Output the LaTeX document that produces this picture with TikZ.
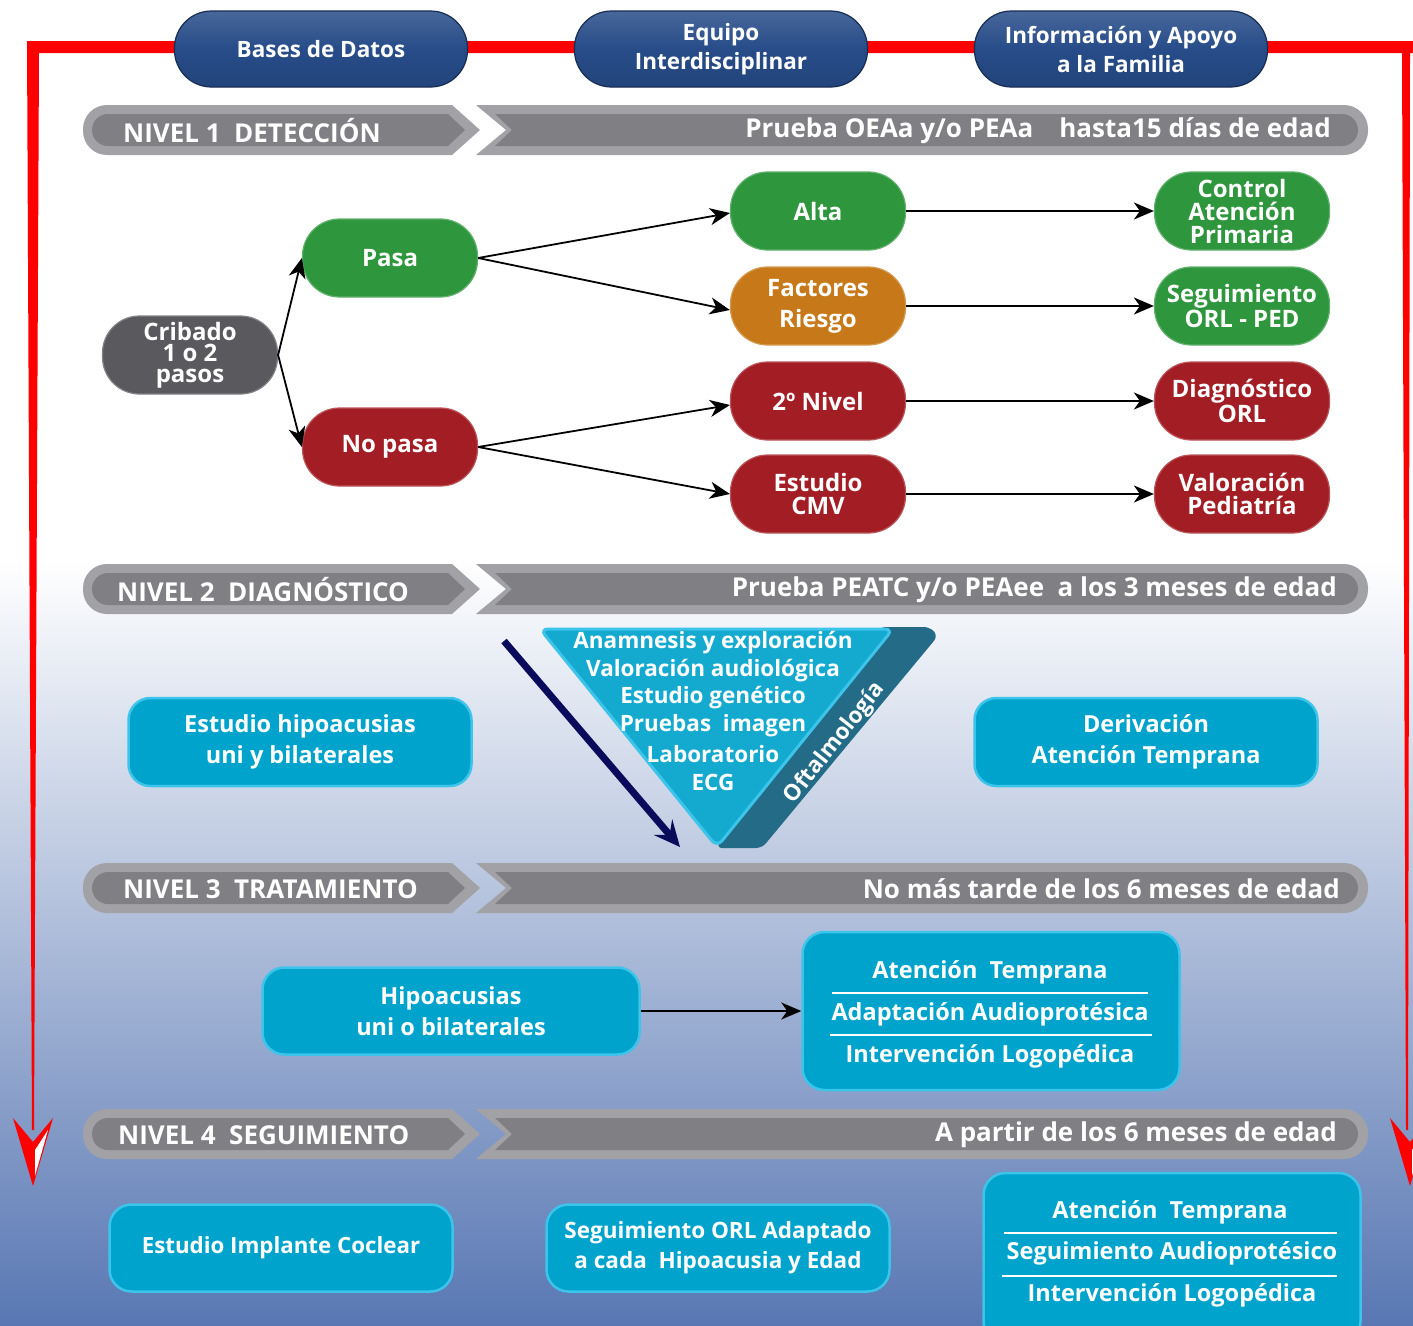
\documentclass[tikz,border=0pt]{standalone}
\usepackage{fontspec}
\setmainfont{Open Sans}
\usetikzlibrary{arrows.meta,calc}
\definecolor{dblue}{HTML}{274C89}
\definecolor{gbar}{HTML}{7F7F84}
\definecolor{gbarl}{HTML}{A2A2A6}
\definecolor{ngreen}{HTML}{2E963C}
\definecolor{nred}{HTML}{A31D24}
\definecolor{norange}{HTML}{C77818}
\definecolor{ngray}{HTML}{5A5A5E}
\definecolor{ncyan}{HTML}{00A3CC}
\definecolor{ncyanl}{HTML}{3CC4EA}
\definecolor{tridark}{HTML}{236B86}
\definecolor{navyc}{HTML}{0B0B5C}
\definecolor{bgblue}{HTML}{5877B3}
\definecolor{redline}{HTML}{FF0000}
\newcommand\myfs[2]{\fontsize{#1}{#2}\selectfont\bfseries}
\newcommand\mybanner[6]{%
  \fill[gbarl] (300,#1-25) -- (452,#1-25) -- (480,#1) -- (452,#1+25) [rounded corners=24pt]-- (83,#1+25) -- (83,#1-25) [sharp corners]-- cycle;
  \fill[gbar] (300,#1-16) -- (448,#1-16) -- (465,#1) -- (448,#1+16) [rounded corners=16pt]-- (92,#1+16) -- (92,#1-16) [sharp corners]-- cycle;
  \fill[gbarl] (476,#1-25) [rounded corners=24pt]-- (1368,#1-25) -- (1368,#1+25) [sharp corners]-- (476,#1+25) -- (506,#1) -- cycle;
  \fill[gbar] (495,#1-16) [rounded corners=16pt]-- (1358,#1-16) -- (1358,#1+16) [sharp corners]-- (495,#1+16) -- (512,#1) -- cycle;
  \node[bantext, anchor=west] (#2) at (#3,#1+1) {#4};
  \node[bantext, anchor=east] (#2r) at (#5,#1+1) {#6};
}
\begin{document}
\begin{tikzpicture}[x=1pt,y=-1pt,
  pill/.style={rounded corners=37pt, minimum width=175pt, minimum height=78pt, inner sep=0pt,
    fill=#1, draw=#1!75!white, line width=1.2pt, text=white, align=center},
  toppill/.style={rounded corners=37pt, minimum width=293pt, minimum height=76pt, inner sep=0pt,
    top color=dblue!85!white, bottom color=dblue!90!black, middle color=dblue, draw=dblue!60!black, line width=1.2pt, text=white, align=center,
    font=\myfs{22.5}{29}},
  cbox/.style={rounded corners=22pt, fill=ncyan, draw=ncyanl, line width=2.5pt, inner sep=0pt,
    text=white, align=center, font=\myfs{23.5}{31}},
  ctext/.style={text=white, font=\myfs{23.5}{22}, inner sep=0pt},
  bantext/.style={text=white, font=\myfs{26}{26}, inner sep=0pt},
  blk/.style={black, line width=1.8pt, -{Stealth[length=20pt,width=17pt,inset=6pt]}},
]
\useasboundingbox (0,0) rectangle (1413,1325);
% background
\fill[white] (0,0) rectangle (1413,560);
\shade[top color=white, bottom color=bgblue] (0,560) rectangle (1413,1325);

% red frame line
\fill[redline] (27,41) -- (1413,41) -- (1413,53) -- (1410,53) -- (1408,1130) -- (1406,1130) -- (1402,53) -- (39,53) -- (34,1130) -- (32,1130) -- cycle;
\fill[redline] (13,1118) -- (33,1142) -- (53,1118) -- (33,1186) -- cycle;
\fill[white] (35,1150) -- (48,1130) -- (35,1176) -- cycle;
\fill[redline] (1390,1118) -- (1410,1142) -- (1430,1118) -- (1410,1186) -- cycle;
\fill[white] (1412,1150) -- (1425,1130) -- (1412,1176) -- cycle;

% top pills
\node[toppill] (bd) at (321,49) {Bases de Datos};
\node[toppill] (eq) at (721,49) {Equipo\\Interdisciplinar};
\node[toppill] (inf) at (1121,49) {Información y Apoyo\\a la Familia};

% banners
\mybanner{130}{n1}{123}{NIVEL 1\ \ DETECCIÓN}{1331}{Prueba OEAa y/o PEAa\quad hasta15 días de edad}
\mybanner{589}{n2}{117}{NIVEL 2\ \ DIAGNÓSTICO}{1337}{Prueba PEATC y/o PEAee\ \ a los 3 meses de edad}
\mybanner{888}{n3}{123}{NIVEL 3\ \ TRATAMIENTO}{1340}{No más tarde de los 6 meses de edad}
\mybanner{1134}{n4}{118}{NIVEL 4\ \ SEGUIMIENTO}{1337}{A partir de los 6 meses de edad}

% level 1
\node[pill=ngray, font=\myfs{24}{21}] (crib) at (190,355) {Cribado\\1 o 2\\pasos};
\node[pill=ngreen, font=\myfs{24}{22}] (pasa) at (390,258) {Pasa};
\node[pill=nred, font=\myfs{24}{22}] (nopasa) at (390,447) {No pasa};
\node[pill=ngreen, font=\myfs{24}{22}] (alta) at (818,211) {Alta};
\node[pill=norange, font=\myfs{24}{31}] (fact) at (818,306) {Factores\\Riesgo};
\node[pill=nred, font=\myfs{24}{22}] (niv2) at (818,401) {2º Nivel};
\node[pill=nred, font=\myfs{24}{23}] (cmv) at (818,494) {Estudio\\CMV};
\node[pill=ngreen, font=\myfs{24}{23}] (ctrl) at (1242,211) {Control\\Atención\\Primaria};
\node[pill=ngreen, font=\myfs{24}{23}] (seg) at (1242,306) {Seguimiento\\ORL - PED};
\node[pill=nred, font=\myfs{24}{23}] (diag) at (1242,401) {Diagnóstico\\ORL};
\node[pill=nred, font=\myfs{24}{23}] (val) at (1242,494) {Valoración\\Pediatría};

\draw[blk] (crib.east) -- (pasa.west);
\draw[blk] (crib.east) -- (nopasa.west);
\draw[blk] (pasa.east) -- ($(alta.west)+(0,2)$);
\draw[blk] (pasa.east) -- ($(fact.west)+(0,4)$);
\draw[blk] (nopasa.east) -- ($(niv2.west)+(0,4)$);
\draw[blk] (nopasa.east) -- (cmv.west);
\draw[blk] (alta.east) -- (ctrl.west);
\draw[blk] (fact.east) -- (seg.west);
\draw[blk] (niv2.east) -- (diag.west);
\draw[blk] (cmv.east) -- (val.west);

% level 2
\node[cbox, minimum width=343pt, minimum height=88pt] (hipo) at (300,742) {Estudio hipoacusias\\uni y bilaterales};
\node[cbox, minimum width=343pt, minimum height=88pt] (deriv) at (1146,742) {Derivación\\Atención Temprana};

\fill[tridark, rounded corners=6pt] (880,627) -- (930,627) -- (938,636) -- (762,848) -- (716,848) -- cycle;
\filldraw[fill=ncyan!92!white, draw=ncyanl, line width=3pt, rounded corners=8pt] (540,629) -- (893,629) -- (717,847) -- cycle;
\node[ctext, font=\myfs{22.5}{23}] (t1) at (713,643) {Anamnesis y exploración};
\node[ctext, font=\myfs{22.5}{23}] (t2) at (713,671) {Valoración audiológica};
\node[ctext, font=\myfs{22.5}{23}] (t3) at (713,698) {Estudio genético};
\node[ctext, font=\myfs{22.5}{23}] (t4) at (713,726) {Pruebas\ \ imagen};
\node[ctext, font=\myfs{22.5}{23}] (t5) at (713,754) {Laboratorio};
\node[ctext, font=\myfs{22.5}{23}] (t6) at (713,782) {ECG};
\node[ctext, rotate=51.5, font=\myfs{22.5}{23}] (oft) at (835,743) {Oftalmología};

\coordinate (na) at (504,641);
\coordinate (nb) at (680,847);
\draw[navyc, line width=7pt, -{Stealth[length=26pt,width=24pt,inset=10pt]}] (na) -- (nb);

% level 3
\node[cbox, minimum width=377pt, minimum height=87pt] (hipo3) at (451,1011) {Hipoacusias\\uni o bilaterales};
\node[cbox, minimum width=377pt, minimum height=158pt] (trat) at (991,1011) {};
\node[ctext] (tr1) at (990,972) {Atención\ \ Temprana};
\node[ctext] (tr2) at (990,1014) {Adaptación Audioprotésica};
\node[ctext] (tr3) at (990,1056) {Intervención Logopédica};
\draw[white, line width=2pt] (832,993) -- (1148,993);
\draw[white, line width=2pt] (830,1035) -- (1152,1035);
\draw[blk] (hipo3.east) -- (trat.west);

% level 4
\node[cbox, minimum width=343pt, minimum height=87pt, font=\myfs{22.3}{30}] (impl) at (281,1248) {Estudio Implante Coclear};
\node[cbox, minimum width=343pt, minimum height=87pt, font=\myfs{22.5}{30}] (segorl) at (718,1248) {Seguimiento ORL Adaptado\\a cada\ \ Hipoacusia y Edad};
\node[cbox, minimum width=377pt, minimum height=170pt] (segbox) at (1172,1258) {};
\node[ctext] (s1) at (1170,1212) {Atención\ \ Temprana};
\node[ctext] (s2) at (1172,1253) {Seguimiento Audioprotésico};
\node[ctext] (s3) at (1172,1295) {Intervención Logopédica};
\draw[white, line width=2pt] (1004,1233) -- (1337,1233);
\draw[white, line width=2pt] (1002,1276) -- (1337,1276);
\end{tikzpicture}
\end{document}
